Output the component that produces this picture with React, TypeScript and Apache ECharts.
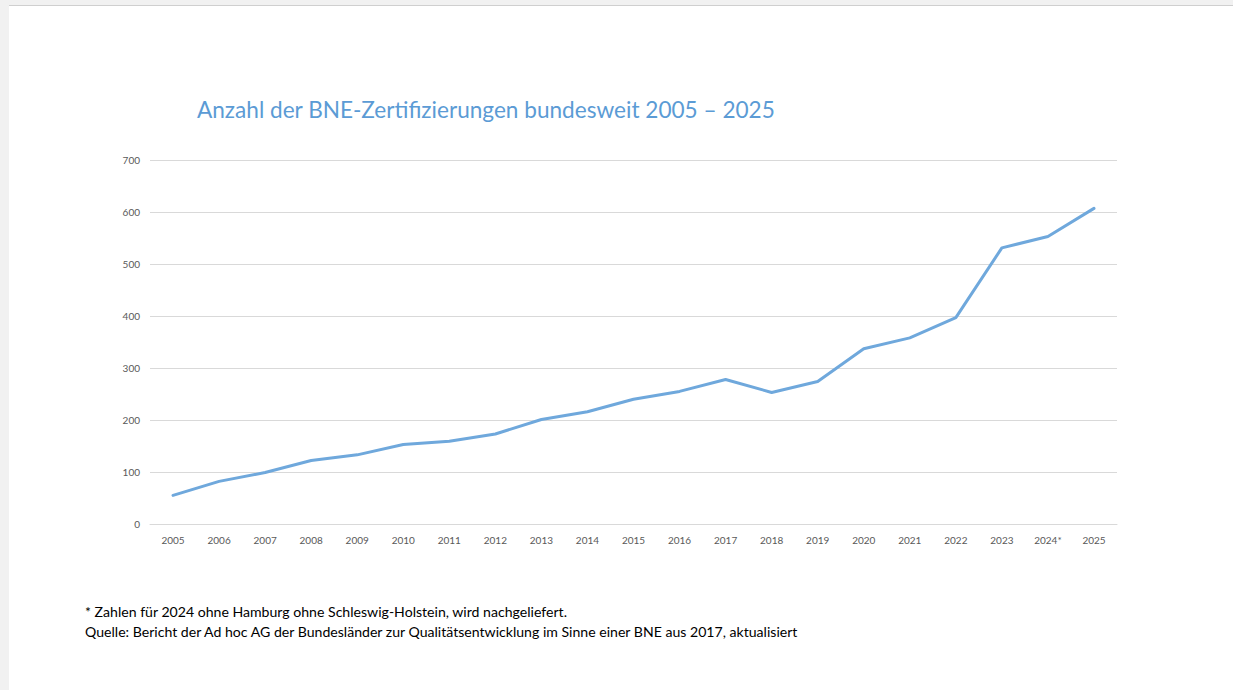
import React, { useEffect, useRef } from "react";
import * as echarts from "echarts";

const years: string[] = [
  "2005", "2006", "2007", "2008", "2009", "2010", "2011", "2012", "2013", "2014",
  "2015", "2016", "2017", "2018", "2019", "2020", "2021", "2022", "2023", "2024*", "2025",
];
const certifications: number[] = [
  55, 82, 99, 122, 133, 153, 159, 173, 201, 216,
  240, 255, 278, 253, 274, 337, 358, 397, 531, 553, 607,
];
const yTicks = { min: 0, max: 700, interval: 100 };

const titleText = "Anzahl der BNE-Zertifizierungen bundesweit 2005 \u2013 2025";
const footnote1 = "* Zahlen f\u00fcr 2024 ohne Hamburg ohne Schleswig-Holstein, wird nachgeliefert.";
const footnote2 =
  "Quelle: Bericht der Ad hoc AG der Bundesl\u00e4nder zur Qualit\u00e4tsentwicklung im Sinne einer BNE aus 2017, aktualisiert";

export default function App() {
  const ref = useRef<HTMLDivElement>(null);
  useEffect(() => {
    if (!ref.current) return;
    const chart = echarts.init(ref.current, undefined, { renderer: "svg" });
    chart.setOption({
      animation: false,
      backgroundColor: "#f1f1f1",
      graphic: [
        { type: "rect", z: -10, silent: true, shape: { x: 9, y: 5, width: 1224, height: 685 }, style: { fill: "#ffffff" } },
        { type: "line", z: -9, silent: true, shape: { x1: 9, y1: 5.5, x2: 1233, y2: 5.5 }, style: { stroke: "#cfcfcf", lineWidth: 1 } },
        {
          type: "text", left: 197, top: 98,
          style: { text: titleText, fill: "#5b9bd5", font: "22.6px Lato", },
        },
        {
          type: "text", left: 85, top: 604,
          style: { text: footnote1, fill: "#000000", font: "14.1px Lato" },
        },
        {
          type: "text", left: 85, top: 624,
          style: { text: footnote2, fill: "#000000", font: "14.1px Lato" },
        },
      ],
      grid: { left: 150, right: 116, top: 160, bottom: 166 },
      xAxis: {
        type: "category",
        data: years,
        boundaryGap: true,
        axisLine: { show: true, lineStyle: { color: "#d9d9d9", width: 1 } },
        axisTick: { show: false },
        axisLabel: { color: "#595959", fontSize: 10, fontFamily: "Lato", margin: 11 },
      },
      yAxis: {
        type: "value",
        min: yTicks.min,
        max: yTicks.max,
        interval: yTicks.interval,
        axisLine: { show: false },
        axisTick: { show: false },
        axisLabel: { color: "#595959", fontSize: 10, fontFamily: "Lato", margin: 10 },
        splitLine: { lineStyle: { color: "#d9d9d9", width: 1 } },
      },
      series: [
        {
          type: "line",
          data: certifications,
          showSymbol: false,
          symbol: "none",
          lineStyle: { color: "#6fa8dc", width: 3, cap: "round", join: "round" },
        },
      ],
    });
    return () => chart.dispose();
  }, []);
  return <div ref={ref} style={{ position: "fixed", left: 0, top: 0, width: 1233, height: 690 }} />;
}
